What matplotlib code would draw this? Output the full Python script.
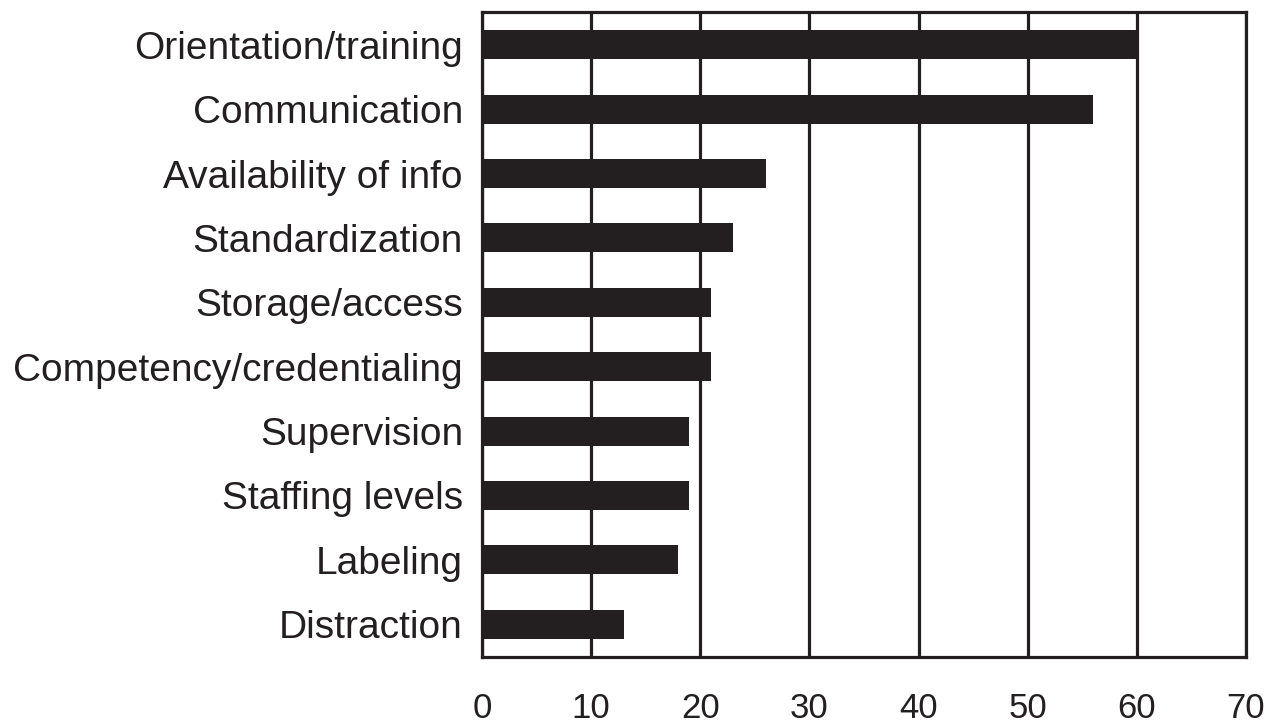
import matplotlib
matplotlib.use("Agg")
import matplotlib.pyplot as plt

categories = ["Orientation/training", "Communication", "Availability of info",
              "Standardization", "Storage/access", "Competency/credentialing",
              "Supervision", "Staffing levels", "Labeling", "Distraction"]
values = [60, 56, 26, 23, 21, 21, 19, 19, 18, 13]
xticks = [0, 10, 20, 30, 40, 50, 60, 70]

plt.rcParams['font.family'] = ['Liberation Sans', 'DejaVu Sans']
fig = plt.figure(figsize=(12.72, 7.23), dpi=100)
ax = fig.add_axes([482/1272, 1 - 657/723, (1246-482)/1272, (657-12)/723])

ypos = list(range(len(categories)))[::-1]
ax.barh(ypos, values, height=0.45, color='#231f20', zorder=3)
ax.set_xlim(0, 70)
ax.set_ylim(-0.51, 9.51)
ax.set_yticks(ypos)
ax.set_yticklabels(categories, fontsize=28, color='#231f20')
ax.set_xticks(xticks)
ax.set_xticklabels([str(t) for t in xticks], fontsize=25, color='#231f20')
ax.tick_params(axis='both', length=0)
ax.tick_params(axis='y', pad=13.7)
ax.tick_params(axis='x', pad=25)
ax.xaxis.grid(True, color='#231f20', linewidth=2.3, zorder=1)
for s in ax.spines.values():
    s.set_linewidth(2.3)
    s.set_color('#231f20')

fig.savefig("out.png", dpi=100)
